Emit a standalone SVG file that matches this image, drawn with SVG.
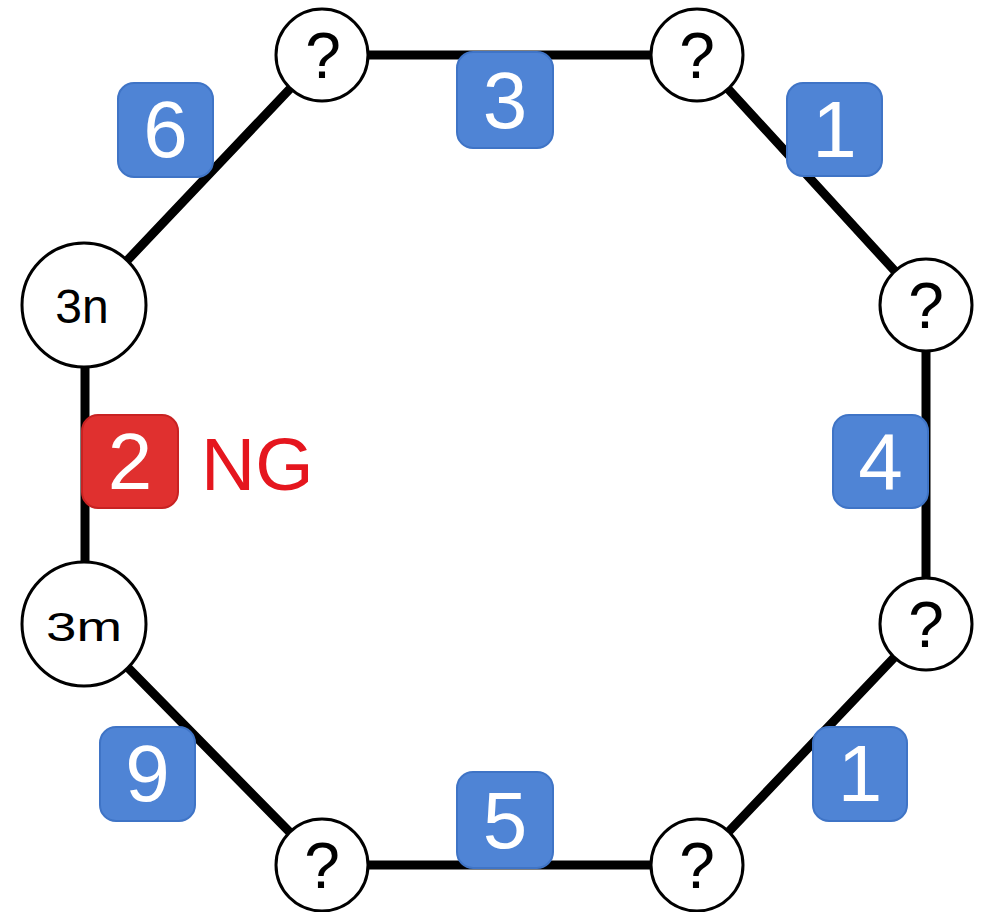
<svg xmlns="http://www.w3.org/2000/svg" width="984" height="912" viewBox="0 0 984 912">
  <style>
    .edge { fill: none; stroke: #000; stroke-width: 9; stroke-linejoin: miter; }
    .node circle { fill: #fff; stroke: #000; stroke-width: 3; }
    .node text { font-family: "Liberation Sans", Arial, sans-serif; fill: #000; text-anchor: middle; }
    .q { font-size: 64px; }
    .badge rect { fill: #4F84D5; stroke: #3F74C6; stroke-width: 2; }
    .badge text { font-family: "Liberation Sans", Arial, sans-serif; font-size: 80px; fill: #fff; text-anchor: middle; }
    .badge.bad rect { fill: #E0302F; stroke: #C82222; }
    .ng { font-family: "Liberation Sans", Arial, sans-serif; font-size: 75px; fill: #E5161E; }
  </style>
  <rect width="984" height="912" fill="#fff"/>

  <!-- ring of connectors -->
  <g id="connectors">
    <path class="edge" d="M322,55 L697,55 L926,305 L926,624 L697,865 L322,865 L85,624 L85,305 Z"/>
  </g>

  <!-- nodes -->
  <g id="node-top-left" class="node">
    <circle cx="322" cy="55" r="46"/>
    <text class="q" x="323" y="78">?</text>
  </g>
  <g id="node-top-right" class="node">
    <circle cx="697" cy="55" r="46"/>
    <text class="q" x="697" y="78">?</text>
  </g>
  <g id="node-right-upper" class="node">
    <circle cx="926" cy="305" r="46"/>
    <text class="q" x="926" y="328">?</text>
  </g>
  <g id="node-right-lower" class="node">
    <circle cx="926" cy="624" r="46"/>
    <text class="q" x="926" y="647">?</text>
  </g>
  <g id="node-bottom-right" class="node">
    <circle cx="697" cy="865" r="46"/>
    <text class="q" x="697" y="888">?</text>
  </g>
  <g id="node-bottom-left" class="node">
    <circle cx="322" cy="865" r="46"/>
    <text class="q" x="322" y="888">?</text>
  </g>
  <g id="node-3n" class="node">
    <circle cx="84" cy="305" r="62"/>
    <text x="82" y="323" font-size="48">3n</text>
  </g>
  <g id="node-3m" class="node">
    <circle cx="84" cy="624" r="62"/>
    <text x="84" y="641" font-size="40" textLength="76" lengthAdjust="spacingAndGlyphs">3m</text>
  </g>

  <!-- edge weights -->
  <g id="weight-6" class="badge">
    <rect x="118" y="83" width="95" height="94" rx="16"/>
    <text x="165.5" y="157">6</text>
  </g>
  <g id="weight-3" class="badge">
    <rect x="457" y="52" width="96" height="96" rx="16"/>
    <text x="505" y="128">3</text>
  </g>
  <g id="weight-1-top" class="badge">
    <rect x="787" y="83" width="95" height="93" rx="16"/>
    <text x="834.5" y="157">1</text>
  </g>
  <g id="weight-4" class="badge">
    <rect x="833" y="415" width="95" height="93" rx="16"/>
    <text x="880.5" y="489">4</text>
  </g>
  <g id="weight-2" class="badge bad">
    <rect x="82" y="415" width="96" height="93" rx="16"/>
    <text x="130" y="489">2</text>
  </g>
  <text id="ng-label" class="ng" x="201" y="490">NG</text>
  <g id="weight-9" class="badge">
    <rect x="100" y="727" width="95" height="94" rx="16"/>
    <text x="147.5" y="801">9</text>
  </g>
  <g id="weight-5" class="badge">
    <rect x="457" y="772" width="96" height="96" rx="16"/>
    <text x="505" y="848">5</text>
  </g>
  <g id="weight-1-bottom" class="badge">
    <rect x="813" y="727" width="94" height="94" rx="16"/>
    <text x="860" y="801">1</text>
  </g>
</svg>
